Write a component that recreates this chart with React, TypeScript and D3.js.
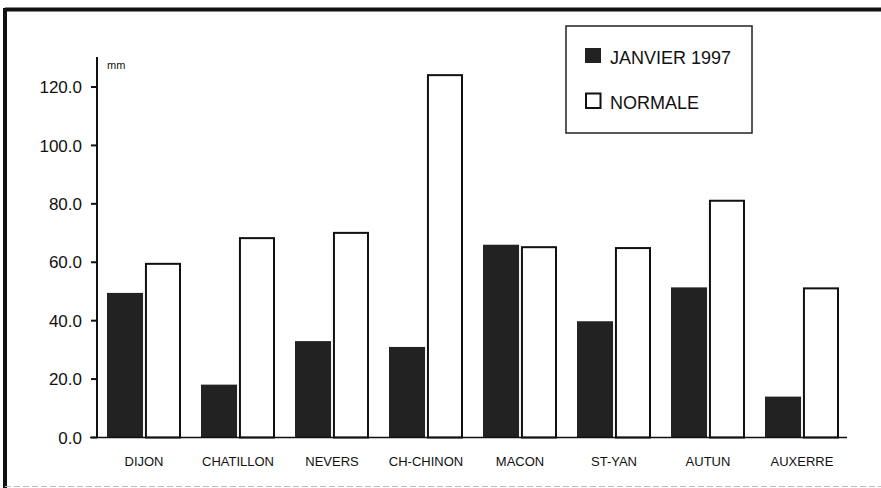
import React from "react";
import * as d3 from "d3";

const categories = ["DIJON", "CHATILLON", "NEVERS", "CH-CHINON", "MACON", "ST-YAN", "AUTUN", "AUXERRE"];
const seriesNames = ["JANVIER 1997", "NORMALE"];
const janvier1997 = [49.5, 18.1, 33.0, 31.0, 66.0, 39.8, 51.4, 14.0];
const normale = [59.8, 68.6, 70.4, 124.4, 65.5, 65.2, 81.4, 51.4];
const yTicks = [0, 20, 40, 60, 80, 100, 120];

const W = 881;
const H = 488;
const FONT = "'Liberation Sans', Arial, Helvetica, sans-serif";

export default function App() {
  const x0 = d3.scaleBand<string>().domain(categories).range([97, 849]).padding(0);
  const x1 = d3.scaleBand<string>().domain(seriesNames).range([10, 84]).paddingInner(0.05);
  const y = d3.scaleLinear().domain([0, 120]).range([437.5, 87]);
  const yTop = y(130.3);

  const series = [
    { name: seriesNames[0], values: janvier1997, fill: "#222", stroke: "#222" },
    { name: seriesNames[1], values: normale, fill: "#fff", stroke: "#111" },
  ];

  return (
    <svg width={W} height={H} style={{ position: "absolute", left: 0, top: 0, background: "#fff" }}>
      {/* frame */}
      <line x1={5} y1={9.5} x2={W} y2={9.5} stroke="#111" strokeWidth={4} />
      <line x1={5} y1={8} x2={5} y2={H} stroke="#111" strokeWidth={4} />
      <line x1={5} y1={486.5} x2={W} y2={486.5} stroke="#bbb" strokeWidth={1} strokeDasharray="6 3" />

      {/* bars */}
      {series.map((s) => (
        <g key={s.name}>
          {categories.map((c, i) => {
            const bx = (x0(c) ?? 0) + (x1(s.name) ?? 0);
            const bw = x1.bandwidth();
            const top = y(s.values[i]);
            const isWhite = s.fill === "#fff";
            return (
              <rect
                key={c}
                x={isWhite ? bx + 1 : bx}
                y={isWhite ? top + 1 : top}
                width={isWhite ? bw - 2 : bw}
                height={isWhite ? y(0) - top - 1 : y(0) - top}
                fill={s.fill}
                stroke={isWhite ? s.stroke : "none"}
                strokeWidth={2}
              />
            );
          })}
        </g>
      ))}

      {/* y axis */}
      <line x1={97} y1={yTop} x2={97} y2={y(0)} stroke="#111" strokeWidth={2} />
      {yTicks.map((t) => (
        <g key={t}>
          <line x1={91} x2={97} y1={y(t)} y2={y(t)} stroke="#111" strokeWidth={2} />
          <text x={82} y={y(t)} dy="0.36em" textAnchor="end" fontFamily={FONT} fontSize={17} fill="#111">
            {t.toFixed(1)}
          </text>
        </g>
      ))}
      <text x={107} y={69} fontFamily={FONT} fontSize={11} fill="#111">mm</text>

      {/* x axis */}
      <line x1={90} x2={847} y1={y(0)} y2={y(0)} stroke="#111" strokeWidth={1.5} />
      {categories.map((c) => (
        <text
          key={c}
          x={(x0(c) ?? 0) + x0.bandwidth() / 2}
          y={466}
          textAnchor="middle"
          fontFamily={FONT}
          fontSize={13}
          fill="#111"
        >
          {c}
        </text>
      ))}

      {/* legend */}
      <rect x={566} y={26} width={186} height={107} fill="#fff" stroke="#222" strokeWidth={1.5} />
      <rect x={585} y={48} width={16} height={15} fill="#222" />
      <text x={610} y={64} fontFamily={FONT} fontSize={18} fill="#111">{seriesNames[0]}</text>
      <rect x={586} y={93.5} width={14.5} height={14.5} fill="#fff" stroke="#111" strokeWidth={2} />
      <text x={610} y={109} fontFamily={FONT} fontSize={18} fill="#111">{seriesNames[1]}</text>
    </svg>
  );
}
